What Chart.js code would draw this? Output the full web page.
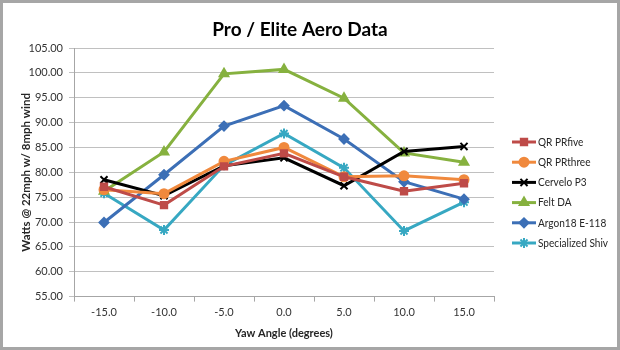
<!DOCTYPE html>
<html>
<head>
<meta charset="utf-8">
<script src="https://cdn.jsdelivr.net/npm/chart.js@4.4.1/dist/chart.umd.min.js"></script>
<style>
  html, body { margin: 0; padding: 0; background: #fff; }
  #wrap { width: 620px; height: 350px; }
</style>
</head>
<body>
<div id="wrap"><canvas id="chart" width="620" height="350"></canvas></div>
<script>
// --- DATA ---
const yawAngles = ['-15.0', '-10.0', '-5.0', '0.0', '5.0', '10.0', '15.0'];

const qrPrFive      = [77.1, 73.4, 81.2, 83.8, 79.1, 76.2, 77.8];
const qrPrThree     = [76.5, 75.7, 82.2, 85.0, 79.1, 79.3, 78.5];
const cerveloP3     = [78.5, 75.3, 81.3, 82.9, 77.3, 84.2, 85.2];
const feltDA        = [76.2, 84.1, 99.8, 100.7, 94.9, 83.9, 82.0];
const argon18E118   = [69.9, 79.5, 89.3, 93.4, 86.7, 78.1, 74.6];
const specialShiv   = [75.8, 68.4, 81.4, 87.8, 80.9, 68.2, 74.0];

const yTicksMin = 55;
const yTicksMax = 105;
const yTicksStep = 5;

const chartTitle = 'Pro / Elite Aero Data';

// --- UI ---
const textFont = 'Lato, "Open Sans", sans-serif';

function serie(label, data, color, pointStyle, radius) {
  return {
    label: label,
    data: data,
    borderColor: color,
    backgroundColor: color,
    pointBackgroundColor: color,
    pointBorderColor: color,
    borderWidth: 3,
    pointStyle: pointStyle,
    pointRadius: radius,
    pointBorderWidth: 2,
    tension: 0
  };
}

// fundo branco, moldura cinza e titulo
const frame = {
  id: 'frame',
  beforeDraw(chart) {
    const ctx = chart.ctx;
    ctx.save();
    ctx.fillStyle = '#fff';
    ctx.fillRect(0, 0, chart.width, chart.height);
    ctx.strokeStyle = '#a6a6a6';
    ctx.lineWidth = 3;
    ctx.strokeRect(1.5, 1.5, chart.width - 3, chart.height - 3);
    ctx.fillStyle = '#000';
    ctx.font = 'bold 19px ' + textFont;
    ctx.textAlign = 'center';
    ctx.textBaseline = 'middle';
    ctx.fillText(chartTitle, 300, 30);
    ctx.restore();
  }
};

// legenda estilo Excel: linha + marcador
const lineLegend = {
  id: 'lineLegend',
  afterDraw(chart) {
    const ctx = chart.ctx;
    const area = chart.chartArea;
    const x0 = area.right + 18;
    let y = area.top + 94;
    chart.data.datasets.forEach(ds => {
      ctx.save();
      ctx.strokeStyle = ds.borderColor;
      ctx.fillStyle = ds.borderColor;
      ctx.lineWidth = 3;
      ctx.beginPath();
      ctx.moveTo(x0, y);
      ctx.lineTo(x0 + 24, y);
      ctx.stroke();
      ctx.lineWidth = 2;
      Chart.helpers.drawPoint(ctx, { pointStyle: ds.pointStyle, radius: ds.pointRadius, borderWidth: 2, rotation: 0 }, x0 + 12, y);
      ctx.fillStyle = '#262626';
      ctx.font = '12px ' + textFont;
      ctx.textBaseline = 'middle';
      ctx.textAlign = 'left';
      // Calibri e mais estreita que Lato: comprime um pouco
      const w = ctx.measureText(ds.label).width * 0.84;
      ctx.fillText(ds.label, x0 + 26, y, w);
      ctx.restore();
      y += 20.2;
    });
  }
};

new Chart(document.getElementById('chart'), {
  type: 'line',
  data: {
    labels: yawAngles,
    datasets: [
      serie('QR PRfive', qrPrFive, '#BE4B48', 'rect', 4.5),
      serie('QR PRthree', qrPrThree, '#F0893D', 'circle', 4.5),
      serie('Cervelo P3', cerveloP3, '#000000', 'crossRot', 5),
      serie('Felt DA', feltDA, '#86B13F', 'triangle', 5),
      serie('Argon18 E-118', argon18E118, '#3C6FB6', 'rectRot', 4.5),
      serie('Specialized Shiv', specialShiv, '#37A8C2', 'star', 5)
    ]
  },
  plugins: [frame, lineLegend],
  options: {
    responsive: false,
    animation: false,
    layout: { padding: { left: 0, right: 126, top: 48, bottom: 10 } },
    plugins: {
      legend: { display: false },
      tooltip: { enabled: false },
      title: { display: false }
    },
    scales: {
      x: {
        offset: true,
        grid: { display: true, drawOnChartArea: false, offset: true, tickLength: 5, color: '#a6a6a6' },
        border: { color: '#a6a6a6' },
        ticks: { color: '#333', font: { family: textFont, size: 11 }, padding: 4, maxRotation: 0 },
        title: {
          display: true,
          text: 'Yaw Angle (degrees)',
          color: '#262626',
          font: { family: textFont, size: 11, weight: 'bold' },
          padding: { top: 4, bottom: 0 }
        }
      },
      y: {
        min: yTicksMin,
        max: yTicksMax,
        afterFit(scale) { scale.width = 74; },
        grid: { color: '#c0c0c0', tickLength: 5 },
        border: { color: '#a6a6a6' },
        ticks: {
          stepSize: yTicksStep,
          color: '#333',
          font: { family: textFont, size: 11 },
          padding: 6,
          callback: v => Number(v).toFixed(2)
        },
        title: {
          display: true,
          text: 'Watts @ 22mph w/ 8mph wind',
          color: '#262626',
          font: { family: textFont, size: 11.5, weight: 'bold' },
          padding: { top: 19, bottom: 0 }
        }
      }
    }
  }
});
</script>
</body>
</html>
